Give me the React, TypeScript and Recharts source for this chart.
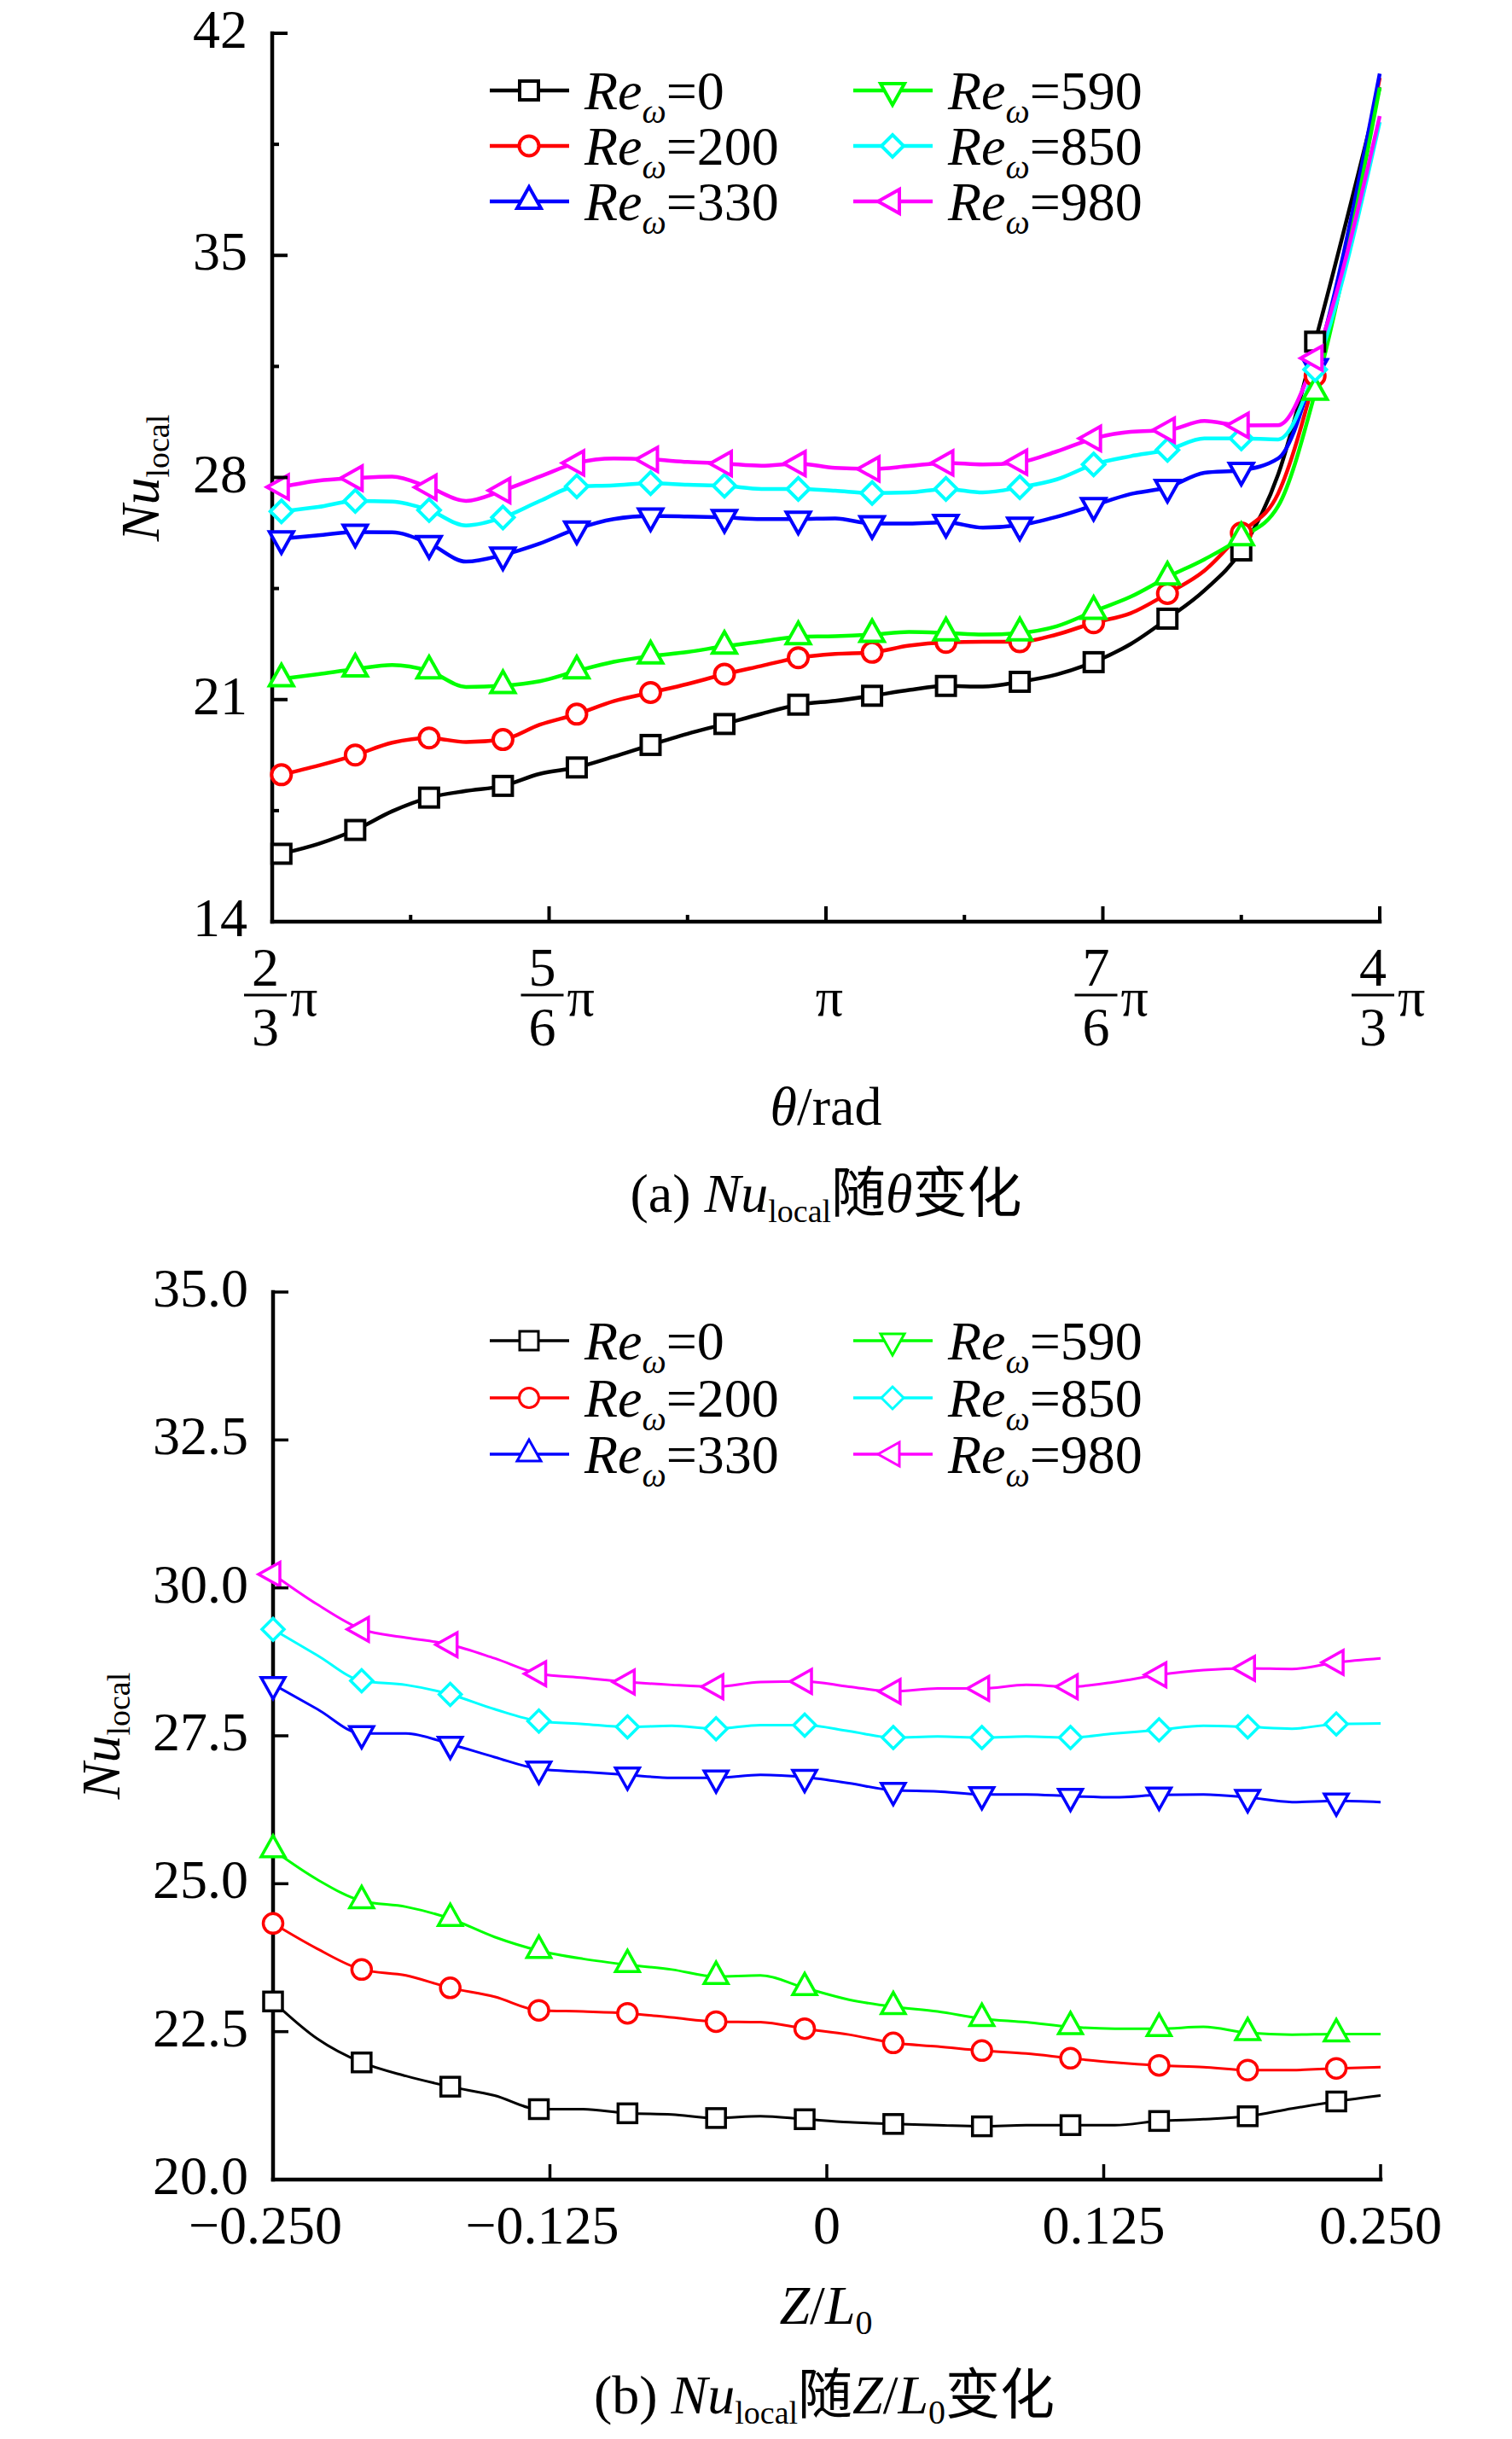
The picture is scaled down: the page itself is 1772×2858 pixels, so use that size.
import { LineChart, Line, XAxis, YAxis } from 'recharts'

const FONT = '"Liberation Serif", "Times New Roman", "Noto Sans CJK SC", serif'

const reLabels = ['0', '200', '330', '590', '850', '980']
const seriesColors = ['#000000', '#ff0000', '#0000ff', '#00ff00', '#00ffff', '#ff00ff']
// the plotted curves and the legend use different triangles for 330 / 590 (as in the figure)
const plotShapes = ['square', 'circle', 'down', 'up', 'diamond', 'left']
const legendShapes = ['square', 'circle', 'up', 'down', 'diamond', 'left']

// (a) Nu_local vs theta, theta in degrees (120 = 2π/3 ... 240 = 4π/3)
const thetaDeg = [121, 125, 129, 133, 137, 141, 145, 149, 153, 157, 161, 165, 169, 173, 177,
  181, 185, 189, 193, 197, 201, 205, 209, 213, 217, 221, 225, 229, 233, 240]
const nuThetaRe0 = [16.14, 16.45, 16.89, 17.48, 17.91, 18.12, 18.28, 18.66, 18.86, 19.2, 19.57, 19.92, 20.23, 20.55, 20.84,
  20.96, 21.12, 21.3, 21.43, 21.41, 21.56, 21.79, 22.18, 22.75, 23.55, 24.44, 25.7, 28.1, 32.28, 40.3]
const nuThetaRe200 = [18.63, 18.92, 19.25, 19.64, 19.79, 19.66, 19.74, 20.21, 20.54, 20.95, 21.22, 21.49, 21.8, 22.06, 22.32,
  22.44, 22.49, 22.7, 22.8, 22.82, 22.82, 23.05, 23.42, 23.72, 24.34, 25.06, 26.25, 27.5, 31.2, 40.6]
const nuThetaRe330 = [26.07, 26.18, 26.28, 26.27, 25.92, 25.35, 25.56, 25.92, 26.38, 26.69, 26.79, 26.77, 26.74, 26.69, 26.69,
  26.71, 26.55, 26.55, 26.59, 26.42, 26.5, 26.76, 27.12, 27.48, 27.69, 28.15, 28.23, 28.6, 31.5, 40.73]
const nuThetaRe590 = [21.65, 21.8, 21.96, 22.09, 21.9, 21.4, 21.44, 21.58, 21.9, 22.19, 22.37, 22.5, 22.68, 22.83, 22.98,
  23.0, 23.05, 23.13, 23.1, 23.05, 23.1, 23.31, 23.78, 24.24, 24.86, 25.42, 26.1, 27.1, 30.68, 40.29]
const nuThetaRe850 = [26.93, 27.07, 27.26, 27.24, 26.97, 26.49, 26.74, 27.26, 27.72, 27.75, 27.82, 27.77, 27.74, 27.64, 27.64,
  27.58, 27.51, 27.53, 27.64, 27.53, 27.69, 27.94, 28.41, 28.67, 28.87, 29.23, 29.23, 29.2, 31.4, 39.2]
const nuThetaRe980 = [27.7, 27.9, 27.98, 28.03, 27.69, 27.26, 27.59, 28.03, 28.46, 28.6, 28.57, 28.49, 28.44, 28.37, 28.44,
  28.3, 28.27, 28.36, 28.46, 28.41, 28.48, 28.82, 29.23, 29.44, 29.49, 29.78, 29.64, 29.65, 31.76, 39.39]

const thetaMajorTicks = [120, 150, 180, 210, 240]
const thetaMinorTicks = [135, 165, 195, 225]
const thetaTickNum = ['2', '5', '', '7', '4']
const thetaTickDen = ['3', '6', '', '6', '3']
const nuThetaTicks = [14, 21, 28, 35, 42]
const nuThetaMinorTicks = [17.5, 24.5, 31.5, 38.5]

// (b) Nu_local vs Z/L0
const zRatio = [-0.25, -0.23, -0.21, -0.19, -0.17, -0.15, -0.13, -0.11, -0.09, -0.07, -0.05, -0.03, -0.01,
  0.01, 0.03, 0.05, 0.07, 0.09, 0.11, 0.13, 0.15, 0.17, 0.19, 0.21, 0.23, 0.25]
const nuZRe0 = [23.01, 22.38, 21.98, 21.75, 21.57, 21.42, 21.19, 21.19, 21.12, 21.1, 21.04, 21.07, 21.02,
  20.97, 20.94, 20.92, 20.9, 20.92, 20.92, 20.92, 20.99, 21.02, 21.07, 21.2, 21.32, 21.42]
const nuZRe200 = [24.33, 23.9, 23.55, 23.45, 23.24, 23.09, 22.86, 22.84, 22.81, 22.74, 22.67, 22.66, 22.55,
  22.45, 22.31, 22.25, 22.18, 22.13, 22.05, 21.98, 21.93, 21.9, 21.85, 21.85, 21.88, 21.9]
const nuZRe330 = [28.37, 27.95, 27.54, 27.54, 27.36, 27.14, 26.94, 26.89, 26.84, 26.79, 26.79, 26.84, 26.8,
  26.7, 26.58, 26.56, 26.51, 26.51, 26.48, 26.46, 26.5, 26.51, 26.46, 26.38, 26.4, 26.38]
const nuZRe590 = [25.57, 25.07, 24.71, 24.61, 24.41, 24.1, 23.87, 23.73, 23.63, 23.55, 23.43, 23.45, 23.24,
  23.04, 22.92, 22.84, 22.72, 22.66, 22.58, 22.55, 22.55, 22.58, 22.48, 22.45, 22.46, 22.46]
const nuZRe850 = [29.3, 28.86, 28.43, 28.36, 28.2, 27.95, 27.75, 27.7, 27.65, 27.67, 27.62, 27.68, 27.68,
  27.58, 27.47, 27.49, 27.47, 27.49, 27.47, 27.54, 27.6, 27.67, 27.65, 27.62, 27.7, 27.71]
const nuZRe980 = [30.23, 29.72, 29.3, 29.16, 29.04, 28.81, 28.55, 28.48, 28.41, 28.36, 28.33, 28.41, 28.42,
  28.33, 28.25, 28.3, 28.3, 28.36, 28.33, 28.41, 28.53, 28.61, 28.64, 28.63, 28.74, 28.81]

const zTicks = [-0.25, -0.125, 0, 0.125, 0.25]
const zTickLabels = ['\u22120.250', '\u22120.125', '0', '0.125', '0.250']
const nuZTicks = [20, 22.5, 25, 27.5, 30, 32.5, 35]

const thetaSeries = [nuThetaRe0, nuThetaRe200, nuThetaRe330, nuThetaRe590, nuThetaRe850, nuThetaRe980]
const zSeries = [nuZRe0, nuZRe200, nuZRe330, nuZRe590, nuZRe850, nuZRe980]

const toRows = (xs: number[], series: number[][]) =>
  xs.map((x, i) => {
    const row: Record<string, number> = { x }
    series.forEach((s, k) => {
      row[`s${k}`] = s[i]
    })
    return row
  })

const thetaRows = toRows(thetaDeg, thetaSeries)
const zRows = toRows(zRatio, zSeries)

function Marker({ shape, cx, cy, color, sw }: { shape: string; cx: number; cy: number; color: string; sw: number }) {
  const common = { fill: '#fff', stroke: color, strokeWidth: sw }
  switch (shape) {
    case 'square':
      return <rect x={cx - 11} y={cy - 11} width={22} height={22} {...common} />
    case 'circle':
      return <circle cx={cx} cy={cy} r={11.5} {...common} />
    case 'up':
      return <polygon points={`${cx},${cy - 17} ${cx - 14},${cy + 8} ${cx + 14},${cy + 8}`} {...common} />
    case 'down':
      return <polygon points={`${cx},${cy + 17} ${cx - 14},${cy - 8} ${cx + 14},${cy - 8}`} {...common} />
    case 'left':
      return <polygon points={`${cx - 17},${cy} ${cx + 8},${cy - 14} ${cx + 8},${cy + 14}`} {...common} />
    default:
      return <polygon points={`${cx},${cy - 13} ${cx + 13},${cy} ${cx},${cy + 13} ${cx - 13},${cy}`} {...common} />
  }
}

// markers on every other point, the last (end) point has none
const makeDot = (shape: string, color: string, sw: number, count: number) =>
  (props: { cx?: number; cy?: number; index?: number }) => {
    const { cx, cy, index = 0 } = props
    if (cx == null || cy == null || index % 2 !== 0 || index === count - 1) return <g key={`d-${index}`} />
    return (
      <g key={`d-${index}`}>
        <Marker shape={shape} cx={cx} cy={cy} color={color} sw={sw} />
      </g>
    )
  }

const frame = { stroke: '#000', strokeWidth: 4.5, strokeLinecap: 'square' as const }

const ThetaTick = (props: { x: number; y: number; payload: { value: number } }) => {
  const { x, y, payload } = props
  const i = thetaMajorTicks.indexOf(payload.value)
  if (i < 0) return <line x1={x} y1={y} x2={x} y2={y - 10} stroke="#000" strokeWidth={4} />
  const fx = x - 8
  return (
    <g fontFamily={FONT} fontSize={64} fill="#000">
      <line x1={x} y1={y} x2={x} y2={y - 20} stroke="#000" strokeWidth={4} />
      {thetaTickNum[i] === '' ? (
        <text x={x + 4} y={y + 108} textAnchor="middle">π</text>
      ) : (
        <>
          <text x={fx} y={y + 73} textAnchor="middle">{thetaTickNum[i]}</text>
          <line x1={fx - 25} x2={fx + 25} y1={y + 84} y2={y + 84} stroke="#000" strokeWidth={3} />
          <text x={fx} y={y + 143} textAnchor="middle">{thetaTickDen[i]}</text>
          <text x={fx + 29} y={y + 108}>π</text>
        </>
      )}
    </g>
  )
}

const NuThetaTick = (props: { x: number; y: number; payload: { value: number } }) => {
  const { x, y, payload } = props
  if (!nuThetaTicks.includes(payload.value)) {
    return <line x1={x} y1={y} x2={x + 10} y2={y} stroke="#000" strokeWidth={4} />
  }
  return (
    <g>
      <line x1={x} y1={y} x2={x + 20} y2={y} stroke="#000" strokeWidth={4} />
      <text x={x - 27} y={y + 17} textAnchor="end" fontFamily={FONT} fontSize={64} fill="#000">
        {payload.value}
      </text>
    </g>
  )
}

const ZTick = (props: { x: number; y: number; payload: { value: number } }) => {
  const { x, y, payload } = props
  const i = zTicks.indexOf(payload.value)
  return (
    <g>
      <line x1={x} y1={y} x2={x} y2={y - 20} stroke="#000" strokeWidth={3.5} />
      <text x={payload.value < 0 ? x - 9 : x} y={y + 73} textAnchor="middle" fontFamily={FONT} fontSize={64} fill="#000">
        {zTickLabels[i]}
      </text>
    </g>
  )
}

const NuZTick = (props: { x: number; y: number; payload: { value: number } }) => {
  const { x, y, payload } = props
  return (
    <g>
      <line x1={x} y1={y} x2={x + 20} y2={y} stroke="#000" strokeWidth={3.5} />
      <text x={x - 27} y={y + 17} textAnchor="end" fontFamily={FONT} fontSize={64} fill="#000">
        {payload.value.toFixed(1)}
      </text>
    </g>
  )
}

function LegendBlock({ rowsY, lw }: { rowsY: number[]; lw: number }) {
  const colX = [574, 1000]
  return (
    <g fontFamily={FONT} fontSize={64} fill="#000">
      {reLabels.map((label, k) => {
        const x0 = colX[Math.floor(k / 3)]
        const y = rowsY[k % 3]
        return (
          <g key={label}>
            <line x1={x0} x2={x0 + 93} y1={y} y2={y} stroke={seriesColors[k]} strokeWidth={lw} />
            <Marker shape={legendShapes[k]} cx={x0 + 46} cy={y} color={seriesColors[k]} sw={lw - 0.5} />
            <text x={x0 + 111} y={y + 22}>
              <tspan fontStyle="italic">Re</tspan>
              <tspan fontStyle="italic" fontSize={40} dy={16}>ω</tspan>
              <tspan dy={-16}>={label}</tspan>
            </text>
          </g>
        )
      })}
    </g>
  )
}

export default function App() {
  return (
    <div style={{ position: 'absolute', left: 0, top: 0, width: 1772, height: 2858, background: '#fff' }}>
      <div style={{ position: 'absolute', left: 0, top: 0 }}>
        <LineChart width={1772} height={1250} data={thetaRows} margin={{ top: 39, right: 155, bottom: 0, left: 119 }}>
          <XAxis
            dataKey="x"
            type="number"
            domain={[120, 240]}
            ticks={[...thetaMajorTicks, ...thetaMinorTicks].sort((a, b) => a - b)}
            interval={0}
            tickSize={0}
            tickLine={false}
            tick={ThetaTick}
            height={170}
            axisLine={frame}
          />
          <YAxis
            type="number"
            domain={[14, 42]}
            ticks={[...nuThetaTicks, ...nuThetaMinorTicks].sort((a, b) => a - b)}
            interval={0}
            tickSize={0}
            tickLine={false}
            tick={NuThetaTick}
            width={200}
            axisLine={frame}
          />
          <XAxis xAxisId="top" orientation="top" type="number" domain={[120, 240]} height={0} tick={false} tickLine={false} axisLine={frame} />
          <YAxis yAxisId="right" orientation="right" type="number" domain={[14, 42]} width={0} tick={false} tickLine={false} axisLine={frame} />
          {thetaSeries.map((_, k) => (
            <Line
              key={k}
              dataKey={`s${k}`}
              type="monotone"
              stroke={seriesColors[k]}
              strokeWidth={4.5}
              dot={makeDot(plotShapes[k], seriesColors[k], 4, thetaDeg.length)}
              activeDot={false}
              isAnimationActive={false}
            />
          ))}
        </LineChart>
      </div>

      <div style={{ position: 'absolute', left: 0, top: 1400 }}>
        <LineChart width={1772} height={1254} data={zRows} margin={{ top: 114, right: 154, bottom: 0, left: 120 }}>
          <XAxis
            dataKey="x"
            type="number"
            domain={[-0.25, 0.25]}
            ticks={zTicks}
            interval={0}
            tickSize={0}
            tickLine={false}
            tick={ZTick}
            height={100}
            axisLine={frame}
          />
          <YAxis
            type="number"
            domain={[20, 35]}
            ticks={nuZTicks}
            interval={0}
            tickSize={0}
            tickLine={false}
            tick={NuZTick}
            width={200}
            axisLine={frame}
          />
          <XAxis xAxisId="top" orientation="top" type="number" domain={[-0.25, 0.25]} height={0} tick={false} tickLine={false} axisLine={frame} />
          <YAxis yAxisId="right" orientation="right" type="number" domain={[20, 35]} width={0} tick={false} tickLine={false} axisLine={frame} />
          {zSeries.map((_, k) => (
            <Line
              key={k}
              dataKey={`s${k}`}
              type="monotone"
              stroke={seriesColors[k]}
              strokeWidth={3}
              dot={makeDot(plotShapes[k], seriesColors[k], 3.5, zRatio.length)}
              activeDot={false}
              isAnimationActive={false}
            />
          ))}
        </LineChart>
      </div>

      <svg width={1772} height={2858} style={{ position: 'absolute', left: 0, top: 0, pointerEvents: 'none' }}>
        <LegendBlock rowsY={[106, 171, 236]} lw={4.5} />
        <LegendBlock rowsY={[1571, 1638, 1704]} lw={3.5} />

        <g fontFamily={FONT} fontSize={64} fill="#000">
          <text transform="translate(186,560) rotate(-90)" textAnchor="middle">
            <tspan fontStyle="italic">Nu</tspan>
            <tspan fontSize={38} dy={12}>local</tspan>
          </text>
          <text x={968} y={1318} textAnchor="middle">
            <tspan fontStyle="italic">θ</tspan>/rad
          </text>
          <text x={968} y={1420} textAnchor="middle">
            (a) <tspan fontStyle="italic">Nu</tspan>
            <tspan fontSize={38} dy={12}>local</tspan>
            <tspan dy={-12}>随</tspan>
            <tspan fontStyle="italic">θ</tspan>变化
          </text>

          <text transform="translate(140,2034) rotate(-90)" textAnchor="middle">
            <tspan fontStyle="italic">Nu</tspan>
            <tspan fontSize={38} dy={12}>local</tspan>
          </text>
          <text x={968} y={2723} textAnchor="middle">
            <tspan fontStyle="italic">Z</tspan>/<tspan fontStyle="italic">L</tspan>
            <tspan fontSize={40} dy={12}>0</tspan>
          </text>
          <text x={966} y={2828} textAnchor="middle">
            (b) <tspan fontStyle="italic">Nu</tspan>
            <tspan fontSize={38} dy={12}>local</tspan>
            <tspan dy={-12}>随</tspan>
            <tspan fontStyle="italic">Z</tspan>/<tspan fontStyle="italic">L</tspan>
            <tspan fontSize={40} dy={12}>0</tspan>
            <tspan dy={-12}>变化</tspan>
          </text>
        </g>
      </svg>
    </div>
  )
}
